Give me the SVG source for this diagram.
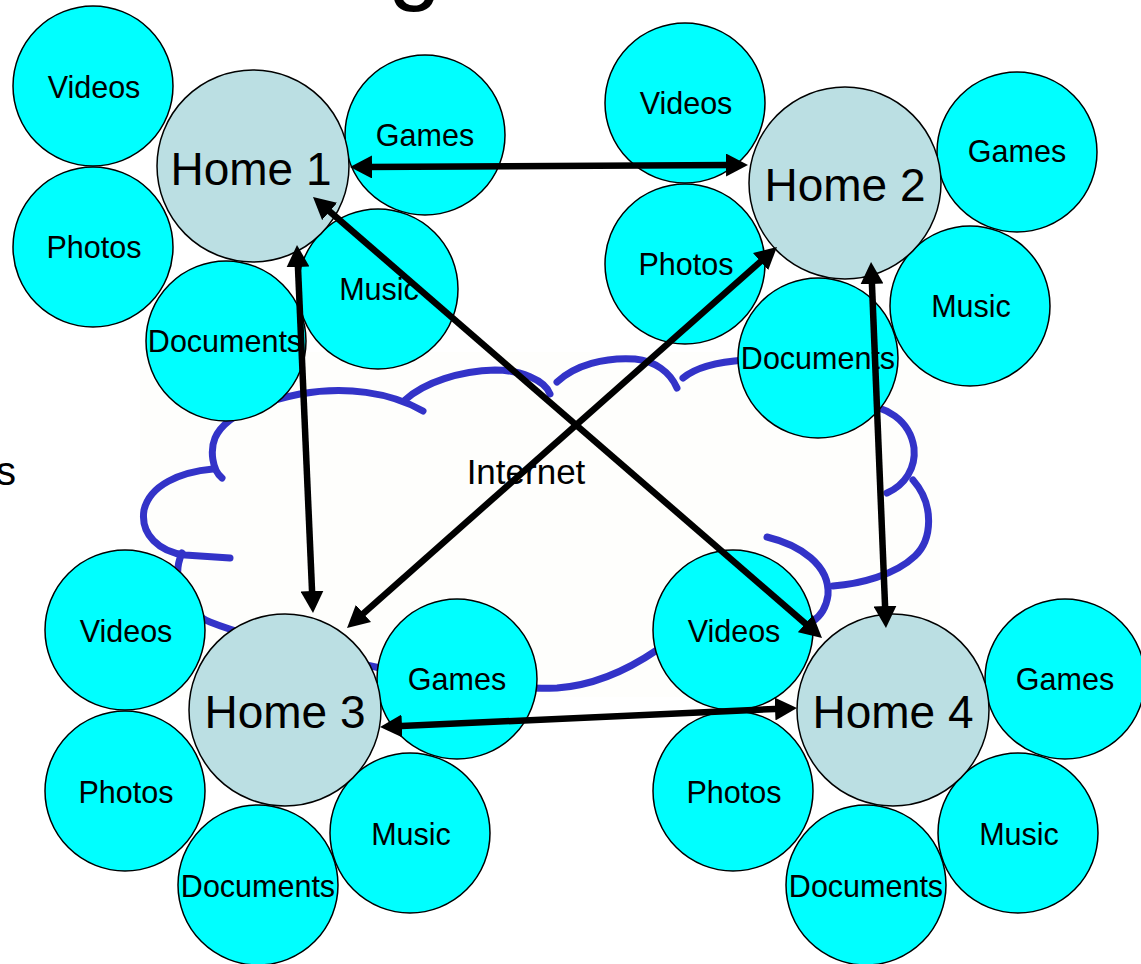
<svg xmlns="http://www.w3.org/2000/svg" width="1141" height="964" viewBox="0 0 1141 964">
<style>
.bg{fill:#ffffff}
.sm{fill:#00ffff;stroke:#000;stroke-width:1.5}
.hm{fill:#bbdfe3;stroke:#000;stroke-width:1.5}
.st{font-family:"Liberation Sans",Arial,sans-serif;font-size:30.5px;fill:#000;text-anchor:middle}
.ht{font-family:"Liberation Sans",Arial,sans-serif;font-size:46px;fill:#000;text-anchor:middle}
.cl{fill:none;stroke:#3333c8;stroke-width:7;stroke-linecap:round;stroke-linejoin:round}
.ar{fill:none;stroke:#000;stroke-width:6.5;marker-start:url(#ah);marker-end:url(#ah)}
.ex{font-family:"Liberation Sans",Arial,sans-serif;fill:#000}
</style>
<defs>
<marker id="ah" viewBox="0 0 22 23" markerWidth="22" markerHeight="23" refX="6" refY="11.5" orient="auto-start-reverse" markerUnits="userSpaceOnUse">
<path d="M0,0 L22,11.5 L0,23 Z" fill="#000"/>
</marker>
</defs>
<rect class="bg" x="0" y="0" width="1141" height="964"/>
<text class="ex" x="388" y="-8" font-size="96">g</text>
<text class="ex" x="16" y="485" font-size="40" text-anchor="end">s</text>

<g id="cloud">
<rect x="140" y="352" width="800" height="345" fill="#fefefc"/>
<path class="cl" d="M222,478 C212,470 210,450 215,438 C225,415 260,402 300,394 C345,386 390,392 423,411"/>
<path class="cl" d="M213,469 C180,472 150,485 144,510 C140,535 160,552 185,555 L230,558"/>
<path class="cl" d="M405,400 C425,382 460,371 495,370 C520,370 545,380 550,394"/>
<path class="cl" d="M557,382 C575,365 605,357 635,359 C655,361 670,372 677,388"/>
<path class="cl" d="M683,378 C695,368 715,362 745,360 L790,362"/>
<path class="cl" d="M860,405 C885,405 910,420 914,448 C916,468 905,485 887,493"/>
<path class="cl" d="M833,586 C860,584 895,575 915,556 C932,540 935,505 913,480"/>
<path class="cl" d="M767,537 C800,545 830,565 828,595 C826,610 818,618 812,622"/>
<path class="cl" d="M182,553 C170,580 185,612 210,622 C240,634 300,650 380,668 C440,681 500,690 557,688 C600,685 635,665 657,650 C690,610 770,600 812,622"/>
<text class="ex" x="526" y="484" font-size="35" text-anchor="middle">Internet</text>
</g>

<g id="home1-group">
<g id="h1-videos"><circle class="sm" cx="93" cy="86" r="80"/><text class="st" x="94" y="98">Videos</text></g>
<g id="h1-photos"><circle class="sm" cx="93" cy="247" r="80"/><text class="st" x="94" y="258">Photos</text></g>
<g id="h1-games"><circle class="sm" cx="425" cy="135" r="80"/><text class="st" x="425" y="146">Games</text></g>
<g id="h1-music"><circle class="sm" cx="378" cy="289" r="80"/><text class="st" x="379" y="300">Music</text></g>
<g id="h1-documents"><circle class="sm" cx="226" cy="341" r="80"/><text class="st" x="225" y="352">Documents</text></g>
<g id="home1"><circle class="hm" cx="253" cy="166" r="96"/><text class="ht" x="251" y="185">Home 1</text></g>
</g>

<g id="home2-group">
<g id="h2-videos"><circle class="sm" cx="685" cy="103" r="80"/><text class="st" x="686" y="114">Videos</text></g>
<g id="h2-photos"><circle class="sm" cx="685" cy="264" r="80"/><text class="st" x="686" y="275">Photos</text></g>
<g id="h2-games"><circle class="sm" cx="1017" cy="152" r="80"/><text class="st" x="1017" y="162">Games</text></g>
<g id="h2-music"><circle class="sm" cx="970" cy="306" r="80"/><text class="st" x="971" y="317">Music</text></g>
<g id="h2-documents"><circle class="sm" cx="818" cy="358" r="80"/><text class="st" x="818" y="369">Documents</text></g>
<g id="home2"><circle class="hm" cx="845" cy="183" r="96"/><text class="ht" x="845" y="201">Home 2</text></g>
</g>

<g id="home3-group">
<g id="h3-videos"><circle class="sm" cx="125" cy="630" r="80"/><text class="st" x="126" y="642">Videos</text></g>
<g id="h3-photos"><circle class="sm" cx="125" cy="791" r="80"/><text class="st" x="126" y="803">Photos</text></g>
<g id="h3-games"><circle class="sm" cx="457" cy="679" r="80"/><text class="st" x="457" y="690">Games</text></g>
<g id="h3-music"><circle class="sm" cx="410" cy="833" r="80"/><text class="st" x="411" y="845">Music</text></g>
<g id="h3-documents"><circle class="sm" cx="258" cy="885" r="80"/><text class="st" x="258" y="897">Documents</text></g>
<g id="home3"><circle class="hm" cx="285" cy="710" r="96"/><text class="ht" x="285" y="728">Home 3</text></g>
</g>

<g id="home4-group">
<g id="h4-videos"><circle class="sm" cx="733" cy="630" r="80"/><text class="st" x="734" y="642">Videos</text></g>
<g id="h4-photos"><circle class="sm" cx="733" cy="791" r="80"/><text class="st" x="734" y="803">Photos</text></g>
<g id="h4-games"><circle class="sm" cx="1065" cy="679" r="80"/><text class="st" x="1065" y="690">Games</text></g>
<g id="h4-music"><circle class="sm" cx="1018" cy="833" r="80"/><text class="st" x="1019" y="845">Music</text></g>
<g id="h4-documents"><circle class="sm" cx="866" cy="885" r="80"/><text class="st" x="866" y="897">Documents</text></g>
<g id="home4"><circle class="hm" cx="893" cy="710" r="96"/><text class="ht" x="893" y="728">Home 4</text></g>
</g>

<g id="connectors">
<line class="ar" x1="366" y1="167" x2="732" y2="165"/>
<line class="ar" x1="297.7" y1="261" x2="312.3" y2="597"/>
<line class="ar" x1="325.1" y1="207.5" x2="809.9" y2="627.5"/>
<line class="ar" x1="765" y1="257.6" x2="359" y2="617.4"/>
<line class="ar" x1="871.7" y1="278" x2="885.3" y2="612"/>
<line class="ar" x1="396" y1="726.3" x2="781" y2="708.7"/>
</g>
</svg>
